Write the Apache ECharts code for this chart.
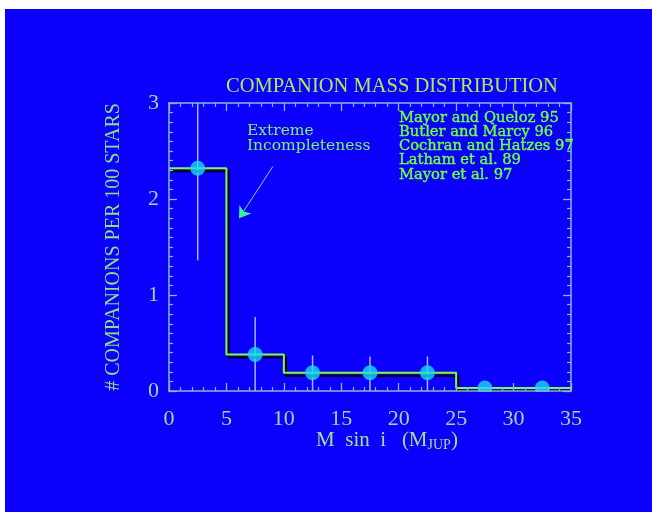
<!DOCTYPE html>
<html>
<head>
<meta charset="utf-8">
<script src="https://cdn.jsdelivr.net/npm/echarts@6/dist/echarts.min.js"></script>
<style>
  html, body { margin: 0; padding: 0; background: #ffffff; }
  #wrap { position: relative; width: 652px; height: 512px; background: #ffffff; overflow: hidden; }
  #blue { position: absolute; left: 5px; top: 9px; right: 0; bottom: 0; background: #0a00fc; }
  #chart { position: absolute; left: 0; top: 0; width: 652px; height: 512px; }
</style>
</head>
<body>
<div id="wrap"><div id="blue"></div><div id="chart"></div></div>
<script>
// ---- data ----
const binEdges   = [0, 5, 10, 15, 20, 25, 30, 35];
const binCenters = [2.5, 7.5, 12.5, 17.5, 22.5, 27.5, 32.5];
const rates      = [2.32, 0.38, 0.19, 0.19, 0.19, 0.03, 0.03];
const errLow     = [1.36, 0, 0, 0, 0, null, null];
const errHigh    = [3.0, 0.77, 0.37, 0.36, 0.36, null, null];
const xTickLabels = ['0', '5', '10', '15', '20', '25', '30', '35'];
const yTickLabels = ['0', '1', '2', '3'];
const surveys = ['Mayor and Queloz 95', 'Butler and Marcy 96', 'Cochran and Hatzes 97', 'Latham et al. 89', 'Mayor et al. 97'];
const titleText = 'COMPANION MASS DISTRIBUTION';
const noteLines = ['Extreme', 'Incompleteness'];
const arrowFrom = [9.05, 2.34];
const arrowHeadStart = [6.45, 1.86];
const arrowTo   = [6.1, 1.80];

// ---- styles ----
const frameColor = '#86b8d6';
const tickLabelColor = '#a4d4a4';
const serif = '"Liberation Serif", "DejaVu Serif", serif';
const serif2 = '"DejaVu Serif", "Liberation Serif", serif';

const stepData = binEdges.map((x, i) => [x, rates[Math.min(i, rates.length - 1)]]);
const pointData = binCenters.map((x, i) => [x, rates[i]]);
const errData = binCenters.map((x, i) => [x, errLow[i], errHigh[i]]).filter(d => d[1] !== null);

function makeAxis(extra, split) {
  return Object.assign({
    type: 'value',
    axisLine: { show: true, onZero: false, lineStyle: { color: frameColor, width: 1.5 } },
    axisTick: { show: true, inside: true, length: 8, lineStyle: { color: frameColor, width: 1.3 } },
    minorTick: { show: true, splitNumber: split, length: 4, lineStyle: { color: frameColor, width: 1.2 } },
    splitLine: { show: false },
    z: 10
  }, extra);
}

const chart = echarts.init(document.getElementById('chart'), null, { renderer: 'canvas' });

const graphics = [];
graphics.push({
  type: 'text', x: 392, y: 87, z: 50,
  style: {
    text: titleText, align: 'center', verticalAlign: 'middle',
    font: '20.5px ' + serif, fill: '#a9ec55',
    shadowColor: '#000030', shadowOffsetX: 1, shadowOffsetY: 1, shadowBlur: 0
  }
});
surveys.forEach((s, i) => {
  graphics.push({
    type: 'text', x: 399, y: 118 + i * 14.2, z: 50,
    style: {
      text: s, align: 'left', verticalAlign: 'middle',
      font: '14.7px ' + serif2, fill: '#70ff3c',
      shadowColor: '#000000', shadowOffsetX: 1.5, shadowOffsetY: 1.5, shadowBlur: 0,
      stroke: '#70ff3c', lineWidth: 0.4
    }
  });
});
noteLines.forEach((s, i) => {
  graphics.push({
    type: 'text', x: 247, y: 131 + i * 15, z: 50,
    style: {
      text: s, align: 'left', verticalAlign: 'middle',
      font: '15.5px ' + serif2, fill: '#86ee66'
    }
  });
});
// x axis name with subscript
graphics.push({
  type: 'text', x: 387, y: 440, z: 50,
  style: {
    text: '{a|M  sin  i   (M}{s|JUP}{a|)}', align: 'center', verticalAlign: 'middle',
    rich: {
      a: { font: '21px ' + serif, fill: '#a4dc98' },
      s: { font: '14px ' + serif, fill: '#a4dc98', padding: [10, 0, 0, 0] }
    }
  }
});
// mask clipping the markers that hang below the plot frame
graphics.push({
  type: 'rect', z: 5, shape: { x: 169, y: 392, width: 403, height: 8 },
  style: { fill: '#0a00fc' }
});

chart.setOption({
  backgroundColor: 'transparent',
  animation: false,
  grid: { left: 169, right: 81, top: 103, bottom: 121, containLabel: false },
  xAxis: [
    makeAxis({
      min: 0, max: 35, interval: 5, position: 'bottom',
      axisLabel: {
        show: true, margin: 17, color: tickLabelColor, fontFamily: serif, fontSize: 22,
        formatter: (v) => xTickLabels[Math.round(v / 5)]
      }
    }, 5),
    makeAxis({
      min: 0, max: 35, interval: 5, position: 'top',
      axisLabel: { show: false }
    }, 5)
  ],
  yAxis: [
    makeAxis({
      min: 0, max: 3, interval: 1, position: 'left',
      axisLabel: {
        show: true, margin: 10, color: tickLabelColor, fontFamily: serif, fontSize: 22,
        formatter: (v) => yTickLabels[Math.round(v)]
      },
      name: '# COMPANIONS PER 100 STARS', nameLocation: 'middle', nameGap: 37, nameRotate: 90,
      nameTextStyle: { color: '#90de80', fontFamily: serif, fontSize: 20, padding: [0, 0, 8, 0] }
    }, 10),
    makeAxis({
      min: 0, max: 3, interval: 1, position: 'right',
      axisLabel: { show: false }
    }, 10)
  ],
  graphic: graphics,
  series: [
    {
      type: 'custom', name: 'errors', xAxisIndex: 0, yAxisIndex: 0, z: 2,
      data: errData,
      renderItem: (params, api) => {
        const p1 = api.coord([api.value(0), api.value(1)]);
        const p2 = api.coord([api.value(0), api.value(2)]);
        return {
          type: 'line',
          shape: { x1: p1[0], y1: p1[1], x2: p2[0], y2: p2[1] },
          style: { stroke: '#a4b8f6', lineWidth: 1.5 }
        };
      }
    },
    {
      type: 'line', name: 'histogram', step: 'end', data: stepData, z: 3,
      symbol: 'none', silent: true,
      lineStyle: { color: '#80ff3a', width: 2, shadowColor: '#000000', shadowOffsetX: 2, shadowOffsetY: 3, shadowBlur: 0 },
      markLine: {
        silent: true, symbol: ['none', 'none'],
        label: { show: false },
        lineStyle: { color: '#7fd8d0', width: 1, type: 'solid' },
        data: [
          [{ coord: arrowFrom }, { coord: arrowTo }],
          [{ coord: arrowHeadStart, symbol: 'none' },
           { coord: arrowTo, symbol: 'arrow', symbolSize: 11, lineStyle: { color: '#3cf29a' } }]
        ]
      }
    },
    {
      type: 'scatter', name: 'points', data: pointData, z: 4,
      symbol: 'circle', symbolSize: 15,
      itemStyle: { color: '#1cd8f6' }
    }
  ]
});
</script>
</body>
</html>
